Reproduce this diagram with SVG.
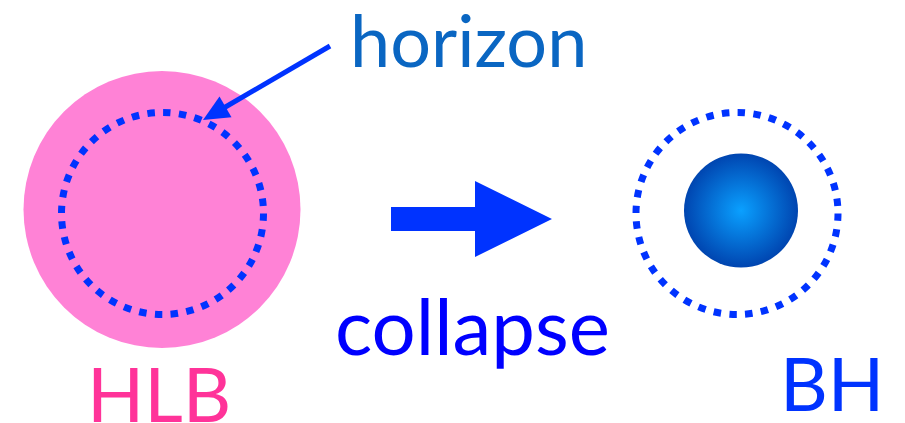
<svg xmlns="http://www.w3.org/2000/svg" width="905" height="423" viewBox="0 0 905 423">
  <style>
    .lbl { font-family: Lato, "Open Sans", "Liberation Sans", sans-serif; }
    .horizon-ring { fill: none; stroke: #0033ff; stroke-width: 7; stroke-dasharray: 7.5 8.36; }
    .arrow { fill: #0033ff; }
  </style>
  <defs>
    <radialGradient id="bhGrad" cx="0.5" cy="0.5" r="0.5">
      <stop offset="0" stop-color="#0aa0ff"/>
      <stop offset="1" stop-color="#0045b0"/>
    </radialGradient>
  </defs>
  <rect width="905" height="423" fill="#ffffff"/>

  <g id="hlb">
    <circle cx="162" cy="209.5" r="138.5" fill="#ff82d6"/>
    <circle class="horizon-ring" cx="162.5" cy="213.5" r="101"/>
    <text class="lbl" x="87" y="422" font-size="75" fill="#ff3399">HLB</text>
  </g>

  <g id="bh">
    <circle class="horizon-ring" cx="737" cy="213.5" r="101"/>
    <circle cx="741" cy="210.5" r="57" fill="url(#bhGrad)"/>
    <text class="lbl" x="780" y="411" font-size="74" fill="#0033ff">BH</text>
  </g>

  <g id="horizon-label">
    <text class="lbl" x="350" y="67" font-size="72" fill="#0a66c2">horizon</text>
  </g>

  <g id="collapse-label">
    <text class="lbl" x="335" y="355" font-size="78" fill="#0000ff">collapse</text>
  </g>

  <g id="connectors">
    <line x1="330" y1="46" x2="222" y2="109" stroke="#0033ff" stroke-width="5"/>
    <polygon class="arrow" points="203,120 219.5,96.5 231.5,117.3"/>
    <polygon class="arrow" points="391,207 475,207 475,181 552,219 475,257 475,231 391,231"/>
  </g>
</svg>
